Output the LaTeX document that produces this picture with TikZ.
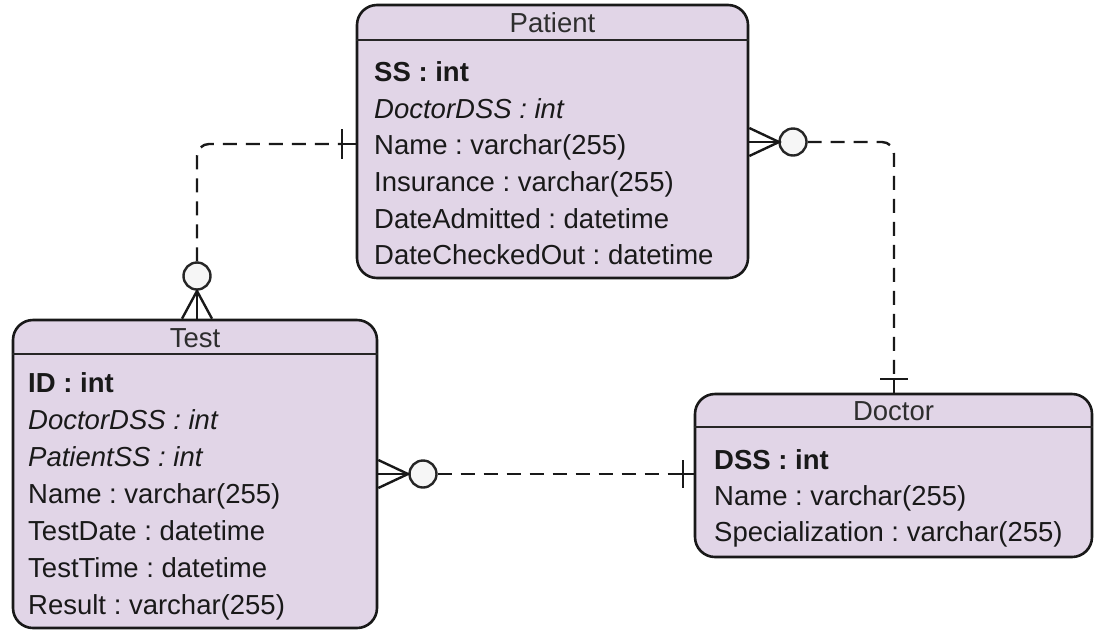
\documentclass[tikz,border=0pt]{standalone}
\usepackage{fontspec}
\setmainfont{Liberation Sans}
\definecolor{erfill}{RGB}{225,213,231}
\definecolor{ringfill}{RGB}{246,246,246}
\begin{document}
\frenchspacing
\begin{tikzpicture}[x=1pt,y=-1pt,
  entity/.style={draw=black!90, line width=2.6pt, fill=erfill, rounded corners=20pt, inner sep=0pt},
  hdrline/.style={draw=black!85, line width=2pt},
  title/.style={font=\fontsize{27.5}{33}\selectfont, text=black!82, inner sep=0pt, anchor=center, text height=19.8pt, text depth=0pt},
  attr/.style={font=\fontsize{27.5}{33}\selectfont, text=black!90, inner sep=0pt, anchor=west, text height=19.8pt, text depth=0pt},
  keyattr/.style={attr, font=\fontsize{27.5}{33}\selectfont\bfseries},
  fkattr/.style={attr, font=\fontsize{27.5}{33}\selectfont\itshape},
  rel/.style={line width=2.4pt, draw=black!90, dash pattern=on 14pt off 9pt, rounded corners=12pt},
  notation/.style={line width=2.4pt, draw=black!90},
  ring/.style={draw=black!85, line width=2.4pt, fill=ringfill, circle, minimum size=27pt, inner sep=0pt}
]
\useasboundingbox (0,0) rectangle (1097,630);

% ---------- Patient ----------
\node[entity, minimum width=391pt, minimum height=273pt] (patient) at (552.5,141.5) {};
\draw[hdrline] ([yshift=-36pt]patient.north west) -- ([yshift=-36pt]patient.north east);
\node[title] (patient-title) at (552.5,23) {Patient};
\node[keyattr] (patient-ss)   at (374,72)    {SS : int};
\node[fkattr]  (patient-dss)  at (374,108.5) {DoctorDSS : int};
\node[attr]    (patient-name) at (374,145)   {Name : varchar(255)};
\node[attr]    (patient-ins)  at (374,182)   {Insurance : varchar(255)};
\node[attr]    (patient-adm)  at (374,218.5) {DateAdmitted : datetime};
\node[attr]    (patient-out)  at (374,255)   {DateCheckedOut : datetime};

% ---------- Test ----------
\node[entity, minimum width=364pt, minimum height=308pt] (test) at (195,474) {};
\draw[hdrline] ([yshift=-35pt]test.north west) -- ([yshift=-35pt]test.north east);
\node[title] (test-title) at (195,338) {Test};
\node[keyattr] (test-id)   at (28,383) {ID : int};
\node[fkattr]  (test-dss)  at (28,420) {DoctorDSS : int};
\node[fkattr]  (test-pss)  at (28,457) {PatientSS : int};
\node[attr]    (test-name) at (28,494) {Name : varchar(255)};
\node[attr]    (test-date) at (28,531) {TestDate : datetime};
\node[attr]    (test-time) at (28,568) {TestTime : datetime};
\node[attr]    (test-res)  at (28,605) {Result : varchar(255)};

% ---------- Doctor ----------
\node[entity, minimum width=397pt, minimum height=163pt] (doctor) at (893.5,475.5) {};
\draw[hdrline] ([yshift=-34pt]doctor.north west) -- ([yshift=-34pt]doctor.north east);
\node[title] (doctor-title) at (893.5,411) {Doctor};
\node[keyattr] (doctor-dss)  at (714,460) {DSS : int};
\node[attr]    (doctor-name) at (714,496) {Name : varchar(255)};
\node[attr]    (doctor-spec) at (714,532) {Specialization : varchar(255)};

% ---------- Test (many, optional) -- Patient (one) ----------
\coordinate (r1-bar) at (342,144);
\coordinate (r1-apex) at (197,291);
\node[ring] (r1-o) at (197,276) {};
\draw[rel] (r1-o.north) |- (r1-bar);
\draw[notation] (r1-bar) -- (patient.west |- r1-bar);
\draw[notation] ([yshift=15pt]r1-bar) -- ([yshift=-15pt]r1-bar);
\draw[notation] (test.north -| r1-apex) -- (r1-apex);
\draw[notation] ([xshift=-15pt]test.north -| r1-apex) -- (r1-apex) -- ([xshift=15pt]test.north -| r1-apex);

% ---------- Patient (many, optional) -- Doctor (one) ----------
\coordinate (r2-bar) at (894,379);
\coordinate (r2-apex) at (779,142);
\node[ring] (r2-o) at (793,142) {};
\draw[rel] (r2-o.east) -| (r2-bar);
\draw[notation] (r2-bar) -- (doctor.north -| r2-bar);
\draw[notation] ([xshift=-14pt]r2-bar) -- ([xshift=14pt]r2-bar);
\draw[notation] (patient.east |- r2-apex) -- (r2-apex);
\draw[notation] ([yshift=14pt]patient.east |- r2-apex) -- (r2-apex) -- ([yshift=-14pt]patient.east |- r2-apex);

% ---------- Test (many, optional) -- Doctor (one) ----------
\coordinate (r3-bar) at (683,474);
\coordinate (r3-apex) at (408,474);
\node[ring] (r3-o) at (423,474) {};
\draw[rel] (r3-o.east) -- (r3-bar);
\draw[notation] (r3-bar) -- (doctor.west |- r3-bar);
\draw[notation] ([yshift=14pt]r3-bar) -- ([yshift=-14pt]r3-bar);
\draw[notation] (test.east |- r3-apex) -- (r3-apex);
\draw[notation] ([yshift=14pt]test.east |- r3-apex) -- (r3-apex) -- ([yshift=-14pt]test.east |- r3-apex);
\end{tikzpicture}
\end{document}
